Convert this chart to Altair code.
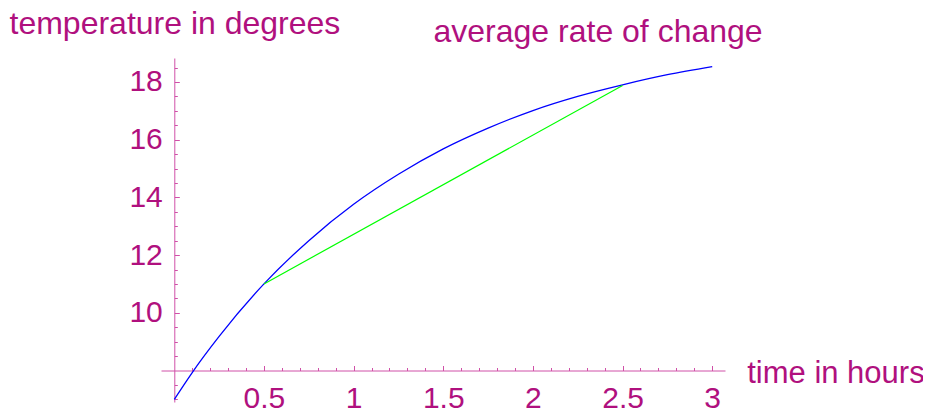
import altair as alt
import pandas as pd

# values
time_h = [0.0, 0.1, 0.25, 0.5, 0.75, 1.0, 1.25, 1.5, 1.75, 2.0, 2.25, 2.5, 2.75, 3.0]
temp = [7.0, 7.93, 9.18, 11.0, 12.5, 13.76, 14.8, 15.68, 16.4, 17.01, 17.5, 17.9, 18.25, 18.53]
secant_t = [0.5, 2.5]
secant_T = [11.0, 17.88]

x_major = [0.5, 1, 1.5, 2, 2.5, 3]
x_minor = [0.1, 0.2, 0.3, 0.4, 0.6, 0.7, 0.8, 0.9, 1.1, 1.2, 1.3, 1.4, 1.6, 1.7, 1.8, 1.9,
           2.1, 2.2, 2.3, 2.4, 2.6, 2.7, 2.8, 2.9]
y_major = [10, 12, 14, 16, 18]
y_minor = [7, 7.5, 8.5, 9, 9.5, 10.5, 11, 11.5, 12.5, 13, 13.5, 14.5, 15, 15.5, 16.5, 17,
           17.5, 18.5]

TXT = "#B0107E"
AX = "#D050A8"
FONT = "Liberation Sans"

W, H = 564, 344
XDOM = [-0.0742, 3.0713]
YDOM = [6.908, 18.83]
X_OFF_BOTTOM = -31.5      # x-axis sits at y = 8
X_OFF_TOP = -312.5
Y_OFF_LEFT = -13.3        # y-axis sits at x = 0
Y_OFF_RIGHT = 13.3 - W

curve_df = pd.DataFrame({"t": time_h, "T": temp})
sec_df = pd.DataFrame({"t": secant_t, "T": secant_T})

xs = alt.Scale(domain=XDOM, nice=False, zero=False)
ys = alt.Scale(domain=YDOM, nice=False, zero=False)

common = dict(grid=False, domainColor=AX, tickColor=AX, domainWidth=1, tickWidth=1)

curve = alt.Chart(curve_df).mark_line(color="#0000FF", strokeWidth=1.3, interpolate="monotone").encode(
    x=alt.X("t:Q", scale=xs, axis=alt.Axis(
        orient="top", offset=X_OFF_TOP, values=x_major, tickSize=5, labels=False, domain=True,
        title="average rate of change", titleX=272, titleY=-329.5, titleAngle=0,
        titleAlign="left", titleBaseline="alphabetic", titleFont=FONT, titleFontSize=32,
        titleFontWeight="normal", titleColor=TXT, **common)),
    y=alt.Y("T:Q", scale=ys, axis=alt.Axis(
        orient="right", offset=Y_OFF_RIGHT, values=y_major, tickSize=5, labels=False,
        domain=True, title=None, **common)),
)

secant = alt.Chart(sec_df).mark_line(color="#00FF00", strokeWidth=1.2).encode(
    x=alt.X("t:Q", scale=xs, axis=alt.Axis(
        orient="top", offset=X_OFF_TOP, values=x_minor, tickSize=3, labels=False,
        domain=False, title=None, **common)),
    y=alt.Y("T:Q", scale=ys, axis=alt.Axis(
        orient="right", offset=Y_OFF_RIGHT, values=y_minor, tickSize=3, labels=False,
        domain=False, title=None, **common)),
)

labels = alt.Chart(curve_df).mark_line(opacity=0).encode(
    x=alt.X("t:Q", scale=xs, axis=alt.Axis(
        orient="bottom", offset=X_OFF_BOTTOM, values=x_major, ticks=False, domain=False,
        format="~g", labelFont=FONT, labelFontSize=30, labelColor=TXT, labelPadding=13,
        labelFlush=False, labelOverlap=False,
        title="time in hours", titleX=585.7, titleY=11.8, titleAngle=0, titleAlign="left",
        titleBaseline="alphabetic", titleFont=FONT, titleFontSize=31, titleFontWeight="normal",
        titleColor=TXT, grid=False)),
    y=alt.Y("T:Q", scale=ys, axis=alt.Axis(
        orient="left", offset=Y_OFF_LEFT, values=y_major, ticks=False, domain=False,
        format="~g", labelFont=FONT, labelFontSize=30, labelColor=TXT, labelPadding=12,
        labelFlush=False, labelOverlap=False,
        title="temperature in degrees", titleX=-165.3, titleY=-24.5, titleAngle=0,
        titleAlign="left", titleBaseline="alphabetic", titleFont=FONT, titleFontSize=32,
        titleFontWeight="normal", titleColor=TXT, grid=False)),
)

chart = alt.layer(curve, secant, labels).resolve_axis(
    x="independent", y="independent"
).properties(
    width=W, height=H,
    autosize=alt.AutoSizeParams(type="none"),
    padding={"left": 153, "top": 50, "right": 198, "bottom": 8},
    background="white",
).configure_view(stroke=None)

chart.save("out.html", embed_options={"renderer": "svg", "actions": False})
